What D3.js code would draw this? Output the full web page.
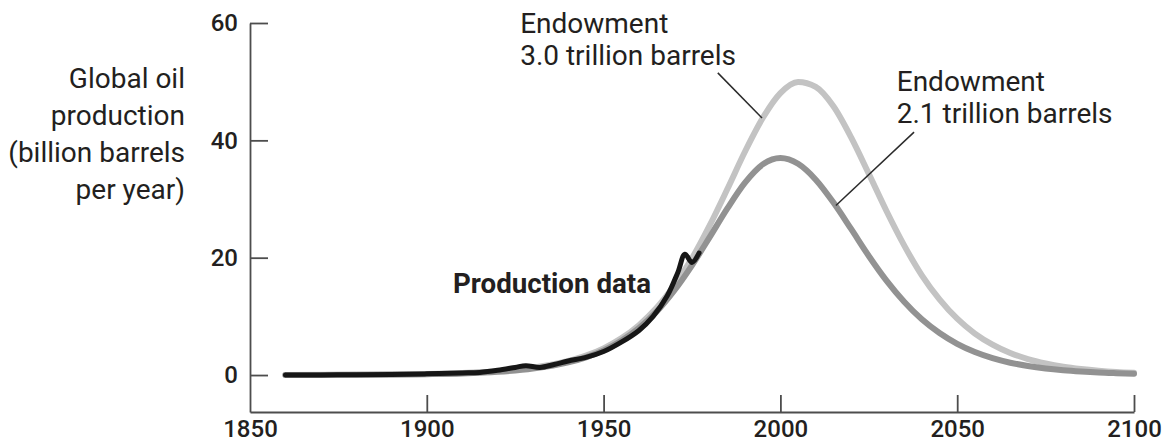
<!DOCTYPE html>
<html>
<head>
<meta charset="utf-8">
<script src="https://cdn.jsdelivr.net/npm/d3@7"></script>
<style>
  html, body { margin: 0; padding: 0; background: #ffffff; }
  svg { display: block; font-family: Roboto, "Noto Sans", sans-serif; }
</style>
</head>
<body>
<svg id="chart" width="1167" height="443"></svg>
<script>
// ---------- data ----------
const modelYears = [1860, 1880, 1900, 1910, 1920, 1930, 1940, 1945, 1950, 1955, 1960, 1965, 1970, 1975,
  1980, 1985, 1990, 1995, 2000, 2005, 2010, 2015, 2020, 2025, 2030, 2035, 2040, 2045, 2050, 2055,
  2060, 2065, 2070, 2075, 2080, 2085, 2090, 2095, 2100];
const endowment30 = [0.01, 0.05, 0.17, 0.33, 0.64, 1.24, 2.39, 3.3, 4.55, 6.25, 8.5, 11.45, 15.3, 19.9,
  25.5, 31.7, 38.1, 43.8, 48.05, 49.95, 49.1, 45.8, 40.5, 34.3, 27.96, 22.1, 17.0, 12.9, 9.6, 7.07,
  5.18, 3.76, 2.72, 1.97, 1.41, 1.02, 0.73, 0.52, 0.38];
const endowment21 = [0.01, 0.03, 0.14, 0.27, 0.54, 1.09, 2.15, 3.02, 4.2, 5.83, 8.0, 10.8, 14.4, 18.7,
  23.5, 28.4, 32.8, 35.9, 37.0, 36.0, 33.3, 29.4, 24.9, 20.3, 16.1, 12.5, 9.5, 7.16, 5.32, 3.92,
  2.88, 2.1, 1.53, 1.11, 0.81, 0.59, 0.42, 0.31, 0.22];
const productionYears = [1860, 1870, 1880, 1890, 1900, 1910, 1915, 1920, 1925, 1928, 1932, 1936, 1940,
  1945, 1950, 1955, 1960, 1964, 1968, 1971, 1973, 1975, 1977];
const production = [0.0, 0.02, 0.05, 0.1, 0.2, 0.35, 0.45, 0.8, 1.3, 1.6, 1.3, 1.8, 2.4,
  3.0, 4.0, 5.6, 7.6, 10.0, 13.5, 17.5, 20.6, 19.2, 20.8];
const xTicks = [1850, 1900, 1950, 2000, 2050, 2100];
const yTicks = [0, 20, 40, 60];
const yTitle = ["Global oil", "production", "(billion barrels", "per year)"];
const label30 = ["Endowment", "3.0 trillion barrels"];
const label21 = ["Endowment", "2.1 trillion barrels"];
const labelProd = "Production data";

// ---------- layout ----------
const svg = d3.select("#chart");
const textColor = "#231f20";
const x = d3.scaleLinear().domain([1850, 2100]).range([250, 1134]);
const y = d3.scaleLinear().domain([-6.3, 60]).range([412, 23]);

// axes
const yAxis = d3.axisLeft(y).tickValues(yTicks).tickSizeInner(-18).tickSizeOuter(0).tickPadding(12)
  .tickFormat(d3.format("d"));
const xAxis = d3.axisBottom(x).tickValues(xTicks).tickSizeInner(-17).tickSizeOuter(0).tickPadding(8)
  .tickFormat(d3.format("d"));

const gy = svg.append("g").attr("transform", `translate(${x(1850)},0)`).call(yAxis);
const gx = svg.append("g").attr("transform", `translate(0,${y(-6.3)})`).call(xAxis);
[gx, gy].forEach(g => {
  g.select(".domain").attr("stroke", "#4d4d4d").attr("stroke-width", 1.8);
  g.selectAll(".tick line").attr("stroke", "#4d4d4d").attr("stroke-width", 1.8);
  g.selectAll(".tick text").attr("fill", textColor).attr("font-size", 24)
    .attr("font-weight", 500).attr("font-family", "Roboto, sans-serif");
});
gx.select(".tick line").attr("opacity", 0); // corner tick hidden by axis

// y-axis title
svg.append("text")
  .attr("text-anchor", "end")
  .attr("fill", textColor)
  .attr("font-size", 28)
  .selectAll("tspan").data(yTitle).join("tspan")
  .attr("x", 185)
  .attr("y", (d, i) => 88 + i * 37)
  .text(d => d);

// curves
const line = (xs) => d3.line()
  .x((d, i) => x(xs[i]))
  .y(d => y(d))
  .curve(d3.curveMonotoneX);

svg.append("path").datum(endowment30)
  .attr("d", line(modelYears))
  .attr("fill", "none").attr("stroke", "#c3c3c3").attr("stroke-width", 6)
  .attr("stroke-linecap", "round");
svg.append("path").datum(endowment21)
  .attr("d", line(modelYears))
  .attr("fill", "none").attr("stroke", "#929292").attr("stroke-width", 6)
  .attr("stroke-linecap", "round");
svg.append("path").datum(production)
  .attr("d", d3.line().x((d, i) => x(productionYears[i])).y(d => y(d)).curve(d3.curveCatmullRom)(production))
  .attr("fill", "none").attr("stroke", "#161616").attr("stroke-width", 5)
  .attr("stroke-linecap", "round").attr("stroke-linejoin", "round");

// annotations (anchored in data coordinates)
function label(lines, yr, val, lh) {
  svg.append("text").attr("fill", textColor).attr("font-size", 28)
    .selectAll("tspan").data(lines).join("tspan")
    .attr("x", x(yr)).attr("y", (d, i) => y(val) + i * lh).text(d => d);
}
label(label30, 1926.4, 58.3, 32);
label(label21, 2032.9, 48.4, 32);

svg.append("text").attr("fill", textColor).attr("font-size", 27.7).attr("font-weight", "bold")
  .attr("x", x(1907.4)).attr("y", y(14.0)).text(labelProd);

function leader(fy, fv, ty, tv) {
  svg.append("line")
    .attr("x1", x(fy)).attr("y1", y(fv)).attr("x2", x(ty)).attr("y2", y(tv))
    .attr("stroke", "#2b2b2b").attr("stroke-width", 1.5);
}
leader(1982.3, 51.5, 1994.8, 43.8);
leader(2037.8, 41.4, 2015.7, 28.9);
</script>
</body>
</html>
